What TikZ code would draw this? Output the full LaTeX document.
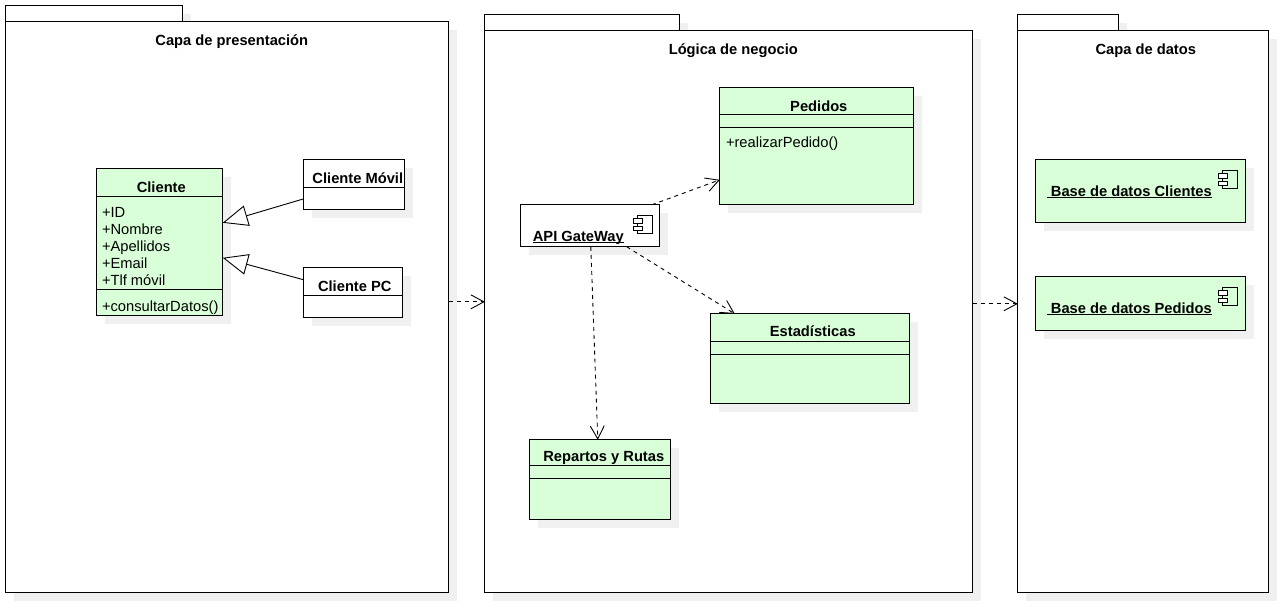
\documentclass[tikz,border=0pt]{standalone}
\usepackage{fontspec}
\setmainfont{Liberation Sans}
\usetikzlibrary{arrows.meta,calc,shadows,positioning}
\definecolor{shade}{HTML}{F0F0F0}
\definecolor{umlgreen}{HTML}{D9FFD9}
\tikzset{
  x=1pt,y=-1pt,
  umlbox/.style={draw=black,line width=1pt,anchor=north west,inner sep=0pt,outer sep=0pt,
    copy shadow={shadow xshift=8pt,shadow yshift=-8pt,fill=shade,draw=none}},
  greenbox/.style={umlbox,fill=umlgreen},
  whitebox/.style={umlbox,fill=white},
  title/.style={font=\fontsize{14.7}{17}\selectfont\bfseries,inner sep=0pt},
  body/.style={font=\fontsize{14.7}{17}\selectfont,inner sep=0pt,anchor=north west,align=left},
  depends/.style={line width=.9pt,dash pattern=on 4pt off 4pt,-{Straight Barb[length=13pt,width=14pt,line width=.9pt]}},
  realizes/.style={line width=.9pt,-{Triangle[open,fill=white,length=25pt,width=21pt,line width=.9pt]}},
  iconpart/.style={draw=black,line width=.9pt,fill=none,inner sep=0pt,outer sep=0pt}
}
\newcommand{\compicon}[2]{%
  \draw[iconpart] (#1+4,#2) rectangle (#1+19,#2+18);
  \draw[iconpart,fill=white] (#1,#2+3) rectangle (#1+9,#2+8);
  \draw[iconpart,fill=white] (#1,#2+11) rectangle (#1+9,#2+15);
}
\newcommand{\umlul}[1]{\setbox0=\hbox{#1}\rlap{\rule[-1.2pt]{\wd0}{1pt}}\box0}
\begin{document}
\begin{tikzpicture}
\useasboundingbox[fill=white] (0.2,0.2) rectangle (1284.2,605.2);
% packages
\node[whitebox,minimum width=177pt,minimum height=16pt] (tabA) at (6,6) {};
\node[whitebox,minimum width=443pt,minimum height=571pt] (pkgA) at (6,22) {};
\node[whitebox,minimum width=195pt,minimum height=16pt] (tabB) at (485,15) {};
\node[whitebox,minimum width=488pt,minimum height=562pt] (pkgB) at (485,31) {};
\node[whitebox,minimum width=101pt,minimum height=16pt] (tabC) at (1018,15) {};
\node[whitebox,minimum width=251pt,minimum height=562pt] (pkgC) at (1018,31) {};
\node[title] (tA) at (232,42) {Capa de presentación};
\node[title] (tB) at (733.5,51) {Lógica de negocio};
\node[title] (tC) at (1146,51) {Capa de datos};
% Cliente
\node[greenbox,minimum width=126pt,minimum height=147pt] (cliente) at (97,169) {};
\draw[line width=1pt] ($(cliente.north west)+(0,28)$) -- ($(cliente.north east)+(0,28)$);
\draw[line width=1pt] ($(cliente.north west)+(0,121)$) -- ($(cliente.north east)+(0,121)$);
\node[title] (clienteT) at (161.5,187) {Cliente};
\node[body] (clienteA) at (102,207) {+ID\\+Nombre\\+Apellidos\\+Email\\+Tlf móvil};
\node[body] (clienteM) at (102,301) {+consultarDatos()};
% Cliente Movil
\node[whitebox,minimum width=101pt,minimum height=50pt] (movil) at (304,160) {};
\draw[line width=1pt] ($(movil.north west)+(0,28)$) -- ($(movil.north east)+(0,28)$);
\node[title] (movilT) at (358,178) {Cliente Móvil};
% Cliente PC
\node[whitebox,minimum width=99pt,minimum height=50pt] (pc) at (304,268) {};
\draw[line width=1pt] ($(pc.north west)+(0,28)$) -- ($(pc.north east)+(0,28)$);
\node[title] (pcT) at (355,286) {Cliente PC};
% Pedidos
\node[greenbox,minimum width=194pt,minimum height=117pt] (pedidos) at (720,88) {};
\draw[line width=1pt] ($(pedidos.north west)+(0,27)$) -- ($(pedidos.north east)+(0,27)$);
\draw[line width=1pt] ($(pedidos.north west)+(0,40)$) -- ($(pedidos.north east)+(0,40)$);
\node[title] (pedidosT) at (819,106) {Pedidos};
\node[body] (pedidosM) at (726,137) {+realizarPedido()};
% API
\node[whitebox,minimum width=139pt,minimum height=42pt] (api) at (521,205) {};
\node[title,anchor=base] (apiT) at (578.5,241.5) {\umlul{API GateWay}};
\compicon{634}{216}
% Estadisticas
\node[greenbox,minimum width=199pt,minimum height=90pt] (estad) at (711,314) {};
\draw[line width=1pt] ($(estad.north west)+(0,28)$) -- ($(estad.north east)+(0,28)$);
\draw[line width=1pt] ($(estad.north west)+(0,41)$) -- ($(estad.north east)+(0,41)$);
\node[title] (estadT) at (813,331) {Estadísticas};
% Repartos
\node[greenbox,minimum width=141pt,minimum height=80pt] (repartos) at (530,440) {};
\draw[line width=1pt] ($(repartos.north west)+(0,26)$) -- ($(repartos.north east)+(0,26)$);
\draw[line width=1pt] ($(repartos.north west)+(0,39)$) -- ($(repartos.north east)+(0,39)$);
\node[title] (repartosT) at (604,458) {Repartos y Rutas};
% Bases de datos
\node[greenbox,minimum width=210pt,minimum height=63pt] (dbA) at (1036,160) {};
\node[title,anchor=base] (dbAT) at (1129.5,196.5) {\umlul{\ Base de datos Clientes}};
\compicon{1219}{171}
\node[greenbox,minimum width=210pt,minimum height=54pt] (dbB) at (1036,277) {};
\node[title,anchor=base] (dbBT) at (1129.5,313.5) {\umlul{\ Base de datos Pedidos}};
\compicon{1219}{288}
% connectors
\draw[realizes] ($(movil.north west)+(0,39)$) -- ($(cliente.north east)+(0,54)$);
\draw[realizes] ($(pc.north west)+(0,12)$) -- ($(cliente.north east)+(0,89)$);
\draw[depends] ($(pkgA.north east)+(0,280)$) -- ($(pkgB.north west)+(0,271)$);
\draw[depends] ($(pkgB.north east)+(0,273)$) -- ($(pkgC.north west)+(0,273)$);
\draw[depends] ($(api.north west)+(131,0)$) -- ($(pedidos.north west)+(0,92)$);
\draw[depends] ($(api.south west)+(106,0)$) -- ($(estad.north west)+(24,0)$);
\draw[depends] ($(api.south west)+(70,0)$) -- ($(repartos.north west)+(68,0)$);
\end{tikzpicture}
\end{document}
